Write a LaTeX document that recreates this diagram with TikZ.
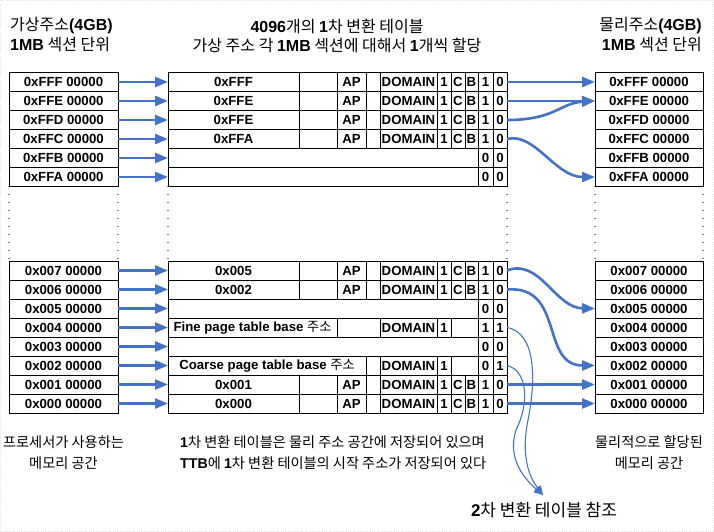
\documentclass[tikz,border=0pt]{standalone}
\usepackage{fontspec}
\setmainfont{Liberation Sans}
\newfontfamily\hangul{Noto Sans CJK KR}
\usepackage{tikz}
\usetikzlibrary{arrows.meta}
\definecolor{arrowblue}{RGB}{68,114,196}
\newcommand{\lat}[1]{{\rmfamily\bfseries #1}}

\begin{document}
\begin{tikzpicture}[x=1pt,y=-1pt,
  cellbox/.style={draw, line width=0.8pt, minimum height=19pt, inner sep=0pt, outer sep=0pt, font=\fontsize{13.2}{14}\selectfont\bfseries},
  addr/.style={cellbox, minimum width=109pt},
  bigarrow/.style={draw=arrowblue, line width=2.6pt, -{Triangle[length=13pt,width=10pt]}},
  thinarrow/.style={draw=arrowblue, line width=1.1pt, -{Triangle[length=9pt,width=8pt]}},
  dotcol/.style={line width=1.3pt, line cap=round, dash pattern=on 0pt off 8pt},
  head/.style={inner sep=0pt, font=\hangul\fontsize{16}{19}\selectfont},
  note/.style={inner sep=0pt, align=center, font=\hangul\fontsize{14.2}{21}\selectfont}]
\useasboundingbox (0,0) rectangle (714,532);
\draw[gray!25, dotted] (0.5,0.5) rectangle (713.5,531.5);

% headers
\node[head, anchor=west] (vtitle) at (10,26) {가상주소\lat{(4GB)}};
\node[head, anchor=west] (vunit) at (10,45) {\lat{1MB} 섹션 단위};
\node[head] (ttitle) at (337,26) {\lat{4096}개의 \lat{1}차 변환 테이블};
\node[head] (tunit) at (337,45) {가상 주소 각 \lat{1MB} 섹션에 대해서 \lat{1}개씩 할당};
\node[head, anchor=east] (ptitle) at (702,26) {물리주소\lat{(4GB)}};
\node[head, anchor=east] (punit) at (702,45) {\lat{1MB} 섹션 단위};

% virtual and physical sections
\foreach \n/\y/\a in {1/82/FFF, 2/101/FFE, 3/120/FFD, 4/139/FFC, 5/158/FFB, 6/177/FFA,
  7/270.5/007, 8/289.5/006, 9/308.5/005, 10/327.5/004, 11/346.5/003, 12/365.5/002,
  13/384.5/001, 14/403.5/000} {
  \node[addr] (v\n) at (63.5,\y) {0x\a\ 00000};
  \node[addr, minimum width=108pt] (p\n) at (649,\y) {0x\a\ 00000};
}

% section entries
\foreach \n/\y/\b in {1/82/0xFFF, 2/101/0xFFE, 3/120/0xFFE, 4/139/0xFFA,
  7/270.5/0x005, 8/289.5/0x002, 13/384.5/0x001, 14/403.5/0x000} {
  \node[cellbox, minimum width=131pt] (t\n) at (233.5,\y) {\b};
  \node[cellbox, minimum width=38pt] () at (318,\y) {};
  \node[cellbox, minimum width=29pt] () at (351.5,\y) {AP};
  \node[cellbox, minimum width=14pt] () at (373,\y) {};
  \node[cellbox, minimum width=57pt] () at (408.5,\y) {DOMAIN};
  \node[cellbox, minimum width=14pt] () at (444,\y) {1};
  \node[cellbox, minimum width=14pt] () at (458,\y) {C};
  \node[cellbox, minimum width=13pt] () at (471.5,\y) {B};
  \node[cellbox, minimum width=15pt] () at (485.5,\y) {1};
  \node[cellbox, minimum width=14pt] (e\n) at (500,\y) {0};
}

% fault entries
\foreach \n/\y in {5/158, 6/177, 9/308.5, 11/346.5} {
  \node[cellbox, minimum width=310pt] (t\n) at (323,\y) {};
  \node[cellbox, minimum width=15pt] () at (485.5,\y) {0};
  \node[cellbox, minimum width=14pt] (e\n) at (500,\y) {0};
}

% fine page table entry
\node[cellbox, minimum width=169pt] (t10) at (252.5,327.5) {Fine page table base {\hangul\mdseries 주소}};
\node[cellbox, minimum width=43pt] () at (358.5,327.5) {};
\node[cellbox, minimum width=57pt] () at (408.5,327.5) {DOMAIN};
\node[cellbox, minimum width=14pt] () at (444,327.5) {1};
\node[cellbox, minimum width=27pt] () at (464.5,327.5) {};
\node[cellbox, minimum width=15pt] () at (485.5,327.5) {1};
\node[cellbox, minimum width=14pt] (e10) at (500,327.5) {1};

% coarse page table entry
\node[cellbox, minimum width=198pt] (t12) at (267,365.5) {Coarse page table base {\hangul\mdseries 주소}};
\node[cellbox, minimum width=14pt] () at (373,365.5) {};
\node[cellbox, minimum width=57pt] () at (408.5,365.5) {DOMAIN};
\node[cellbox, minimum width=14pt] () at (444,365.5) {1};
\node[cellbox, minimum width=27pt] () at (464.5,365.5) {};
\node[cellbox, minimum width=15pt] () at (485.5,365.5) {0};
\node[cellbox, minimum width=14pt] (e12) at (500,365.5) {1};

% skipped rows
\draw[dotcol] (v6.south west) -- (v7.north west);
\draw[dotcol] (v6.south east) -- (v7.north east);
\draw[dotcol] (t6.south west) -- (t7.north west);
\draw[dotcol] (e6.south east) -- (e7.north east);
\draw[dotcol] (p6.south west) -- (p7.north west);
\draw[dotcol] (p6.south east) -- (p7.north east);

% virtual address -> table entry
\foreach \n in {1,...,14} \draw[bigarrow] (v\n) -- (t\n);

% table entry -> physical section
\draw[bigarrow] (e1) -- (p1);
\draw[bigarrow] (e2) -- (p2);
\draw[bigarrow] (e3.east) .. controls (555,120) and (560,103) .. (p2.west);
\draw[bigarrow] (e4.east) .. controls (535,132) and (555,177) .. (p6.west);
\draw[bigarrow] (e7.east) .. controls (540,258) and (555,308) .. (p9.west);
\draw[bigarrow] (e8.east) .. controls (565,285) and (540,365.5) .. (p12.west);
\draw[bigarrow] (e13) -- (p13);
\draw[bigarrow] (e14) -- (p14);

% second level tables
\node[inner sep=0pt, font=\hangul\fontsize{17}{19}\selectfont] (second) at (544,510) {\lat{2}차 변환 테이블 참조};
\coordinate (reftip) at (543,495);
\draw[thinarrow] (e10.east) .. controls (538,333) and (535,385) .. (528,420) .. controls (523,445) and (524,470) .. (reftip);
\draw[thinarrow] (e12.east) .. controls (527,370) and (530,402) .. (516,430) .. controls (508,455) and (520,475) .. (reftip);

% notes
\node[note] (vnote) at (63.5,453) {프로세서가 사용하는\\메모리 공간};
\node[note, align=left, anchor=west] (tnote) at (180,453) {\lat{1}차 변환 테이블은 물리 주소 공간에 저장되어 있으며\\\lat{TTB}에 \lat{1}차 변환 테이블의 시작 주소가 저장되어 있다};
\node[note] (pnote) at (649,453) {물리적으로 할당된\\메모리 공간};

\end{tikzpicture}
\end{document}
